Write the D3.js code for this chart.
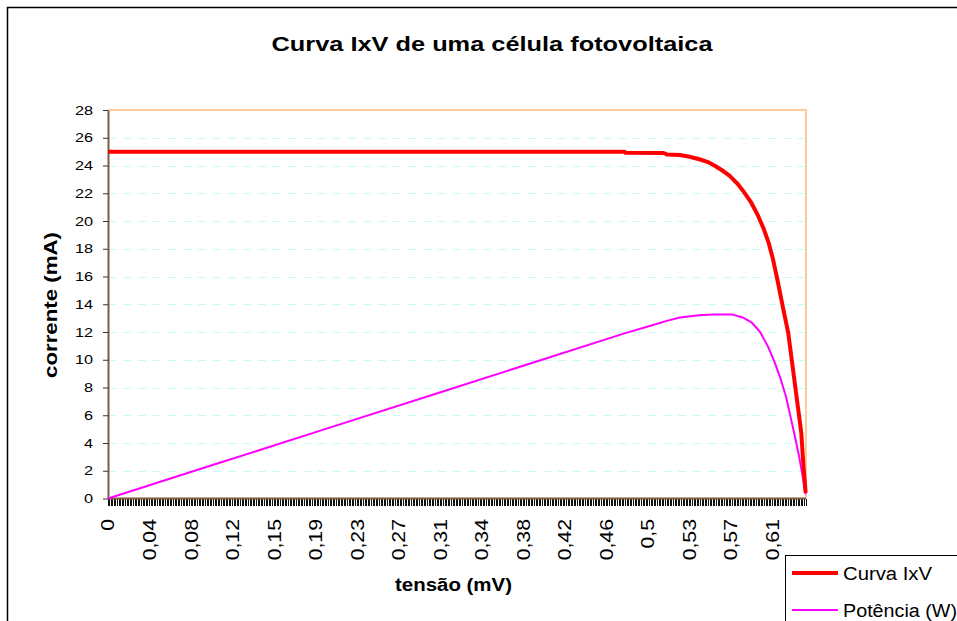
<!DOCTYPE html>
<html>
<head>
<meta charset="utf-8">
<script src="https://cdn.jsdelivr.net/npm/d3@7"></script>
<style>
	body { margin: 0; background: #fff; }
	text { font-family: "Liberation Sans", Arial, sans-serif; }
</style>
</head>
<body>
<svg id="chart" width="957" height="621"></svg>
<script>
// Rotulos do eixo x (categorias) e marcas
const rotulosTensao = ["0", "0,04", "0,08", "0,12", "0,15", "0,19", "0,23", "0,27", "0,31",
	"0,34", "0,38", "0,42", "0,46", "0,5", "0,53", "0,57", "0,61"];
const categoriasPorRotulo = 26;
const nCategorias = 437;
const tensaoMax = 0.6433; // tensao da ultima categoria

const ticksCorrente = [0, 2, 4, 6, 8, 10, 12, 14, 16, 18, 20, 22, 24, 26, 28];

// Curva IxV : [tensao, corrente]
const curvaIxV = [
	[0, 25.0], [0.476, 25.0], [0.477, 24.92], [0.512, 24.9], [0.515, 24.8], [0.527, 24.76],
	[0.535, 24.65], [0.545, 24.45], [0.553, 24.25], [0.56, 23.95], [0.567, 23.6], [0.573, 23.25],
	[0.58, 22.7], [0.586, 22.1], [0.593, 21.3], [0.599, 20.4], [0.604, 19.5], [0.609, 18.4],
	[0.613, 17.2], [0.617, 15.75], [0.622, 13.8], [0.627, 11.9], [0.631, 9.5], [0.635, 7.1],
	[0.639, 4.7], [0.641, 2.3], [0.643, 0.4]
];

// Potencia : [tensao, potencia]
const potencia = [
	[0, 0], [0.1, 2.5], [0.2, 5.0], [0.3, 7.5], [0.4, 10.0], [0.476, 11.9], [0.5, 12.45],
	[0.515, 12.8], [0.527, 13.05], [0.545, 13.2], [0.558, 13.27], [0.575, 13.27], [0.585, 13.05],
	[0.593, 12.7], [0.601, 12.0], [0.608, 11.0], [0.614, 9.9], [0.62, 8.6], [0.625, 7.3],
	[0.629, 5.9], [0.633, 4.5], [0.637, 3.0], [0.64, 1.7], [0.642, 0.7], [0.643, 0.3]
];

const svg = d3.select("#chart");

const plot = { left: 108, right: 806, top: 110, bottom: 498.5 };

const xCat = d3.scaleLinear().domain([0, nCategorias]).range([plot.left, plot.right]);
const xV = d3.scaleLinear().domain([0, tensaoMax]).range([plot.left, plot.right]);
const y = d3.scaleLinear().domain([0, 28]).range([plot.bottom, plot.top]);

// stretch text along its direction (the original renders wide)
function stretch(sel, f) {
	sel.each(function() {
		const len = this.getComputedTextLength();
		d3.select(this).attr("textLength", len * f).attr("lengthAdjust", "spacingAndGlyphs");
	});
}

svg.append("rect").attr("width", 957).attr("height", 621).attr("fill", "#fff");

// outer chart border
svg.append("rect")
	.attr("x", 7.5).attr("y", 7.5)
	.attr("width", 1000).attr("height", 700)
	.attr("fill", "none").attr("stroke", "#000").attr("stroke-width", 1.5);

// title
svg.append("text")
	.attr("x", 492).attr("y", 51)
	.attr("text-anchor", "middle")
	.attr("font-size", 21).attr("font-weight", "bold")
	.attr("textLength", 441).attr("lengthAdjust", "spacingAndGlyphs")
	.text("Curva IxV de uma célula fotovoltaica");

// grid lines
svg.append("g")
	.selectAll("line")
	.data(ticksCorrente.filter(d => d > 0 && d < 28))
	.enter().append("line")
	.attr("x1", plot.left).attr("x2", plot.right)
	.attr("y1", d => Math.round(y(d)) + 0.5).attr("y2", d => Math.round(y(d)) + 0.5)
	.attr("stroke", "#c4fafa").attr("stroke-dasharray", "8,7");

// plot border (top, right)
svg.append("path")
	.attr("d", `M${plot.left},${plot.top}H${plot.right}V${plot.bottom}`)
	.attr("fill", "none").attr("stroke", "#ffcc99").attr("stroke-width", 2);

// y axis
const yAxis = svg.append("g").attr("transform", `translate(${plot.left},0)`)
	.call(d3.axisLeft(y).tickValues(ticksCorrente).tickSize(5).tickSizeOuter(0).tickFormat(d3.format("d")));
yAxis.select(".domain").attr("stroke", "#7a5c3e").attr("stroke-width", 2);
yAxis.selectAll(".tick line").attr("stroke", "#333");
yAxis.selectAll(".tick text")
	.attr("x", -15).attr("font-size", 13).attr("fill", "#000")
	.call(stretch, 1.25);

// x axis: one tick per category
const xTicks = d3.range(nCategorias + 1);
svg.append("g")
	.attr("shape-rendering", "crispEdges")
	.selectAll("line")
	.data(xTicks)
	.enter().append("line")
	.attr("x1", d => xCat(d)).attr("x2", d => xCat(d))
	.attr("y1", plot.bottom).attr("y2", plot.bottom + 7)
	.attr("stroke", "#111");

svg.append("line")
	.attr("x1", plot.left).attr("x2", plot.right)
	.attr("y1", plot.bottom).attr("y2", plot.bottom)
	.attr("stroke", "#7a5c3e").attr("stroke-width", 2);

svg.append("g")
	.selectAll("text")
	.data(rotulosTensao)
	.enter().append("text")
	.attr("transform", (d, i) => `translate(${xCat(i * categoriasPorRotulo)},519) rotate(-90)`)
	.attr("text-anchor", "end")
	.attr("dy", "0.36em")
	.attr("font-size", 18)
	.text(d => d)
	.call(stretch, 1.18);

// axis titles
svg.append("text")
	.attr("transform", "translate(56.5,305) rotate(-90)")
	.attr("text-anchor", "middle")
	.attr("font-size", 18).attr("font-weight", "bold")
	.attr("textLength", 146).attr("lengthAdjust", "spacingAndGlyphs")
	.text("corrente (mA)");

svg.append("text")
	.attr("x", 453.5).attr("y", 591)
	.attr("text-anchor", "middle")
	.attr("font-size", 18).attr("font-weight", "bold")
	.attr("textLength", 117).attr("lengthAdjust", "spacingAndGlyphs")
	.text("tensão (mV)");

// series
const line = d3.line().x(d => xV(d[0])).y(d => y(d[1]));

svg.append("path")
	.datum(potencia)
	.attr("d", line)
	.attr("fill", "none").attr("stroke", "#ff00ff").attr("stroke-width", 2)
	.attr("stroke-linejoin", "round");

svg.append("path")
	.datum(curvaIxV)
	.attr("d", line)
	.attr("fill", "none").attr("stroke", "#ff0000").attr("stroke-width", 4)
	.attr("stroke-linejoin", "round");

// legend
const legend = svg.append("g");
legend.append("rect")
	.attr("x", 785.5).attr("y", 555.5)
	.attr("width", 220).attr("height", 120)
	.attr("fill", "#fff").attr("stroke", "#000").attr("stroke-width", 1);

const itensLegenda = [
	{ nome: "Curva IxV", cor: "#ff0000", largura: 4, y: 573, comprimento: 89 },
	{ nome: "Potência (W)", cor: "#ff00ff", largura: 2, y: 610, comprimento: 114 }
];

itensLegenda.forEach(item => {
	legend.append("line")
		.attr("x1", 792).attr("x2", 838)
		.attr("y1", item.y).attr("y2", item.y)
		.attr("stroke", item.cor).attr("stroke-width", item.largura);
	legend.append("text")
		.attr("x", 843).attr("y", item.y + 6.5)
		.attr("font-size", 18)
		.attr("textLength", item.comprimento).attr("lengthAdjust", "spacingAndGlyphs")
		.text(item.nome);
});
</script>
</body>
</html>
